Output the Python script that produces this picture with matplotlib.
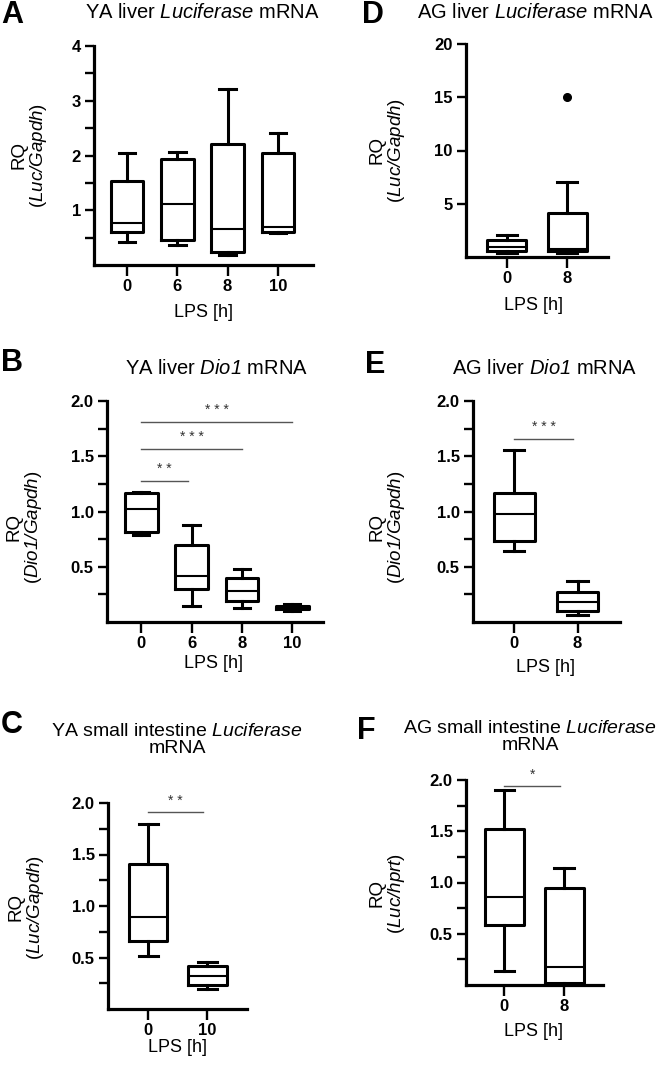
import matplotlib.pyplot as plt

plt.rcParams["font.family"] = ["Liberation Sans", "DejaVu Sans"]
plt.rcParams["mathtext.fontset"] = "custom"
plt.rcParams["mathtext.rm"] = "Liberation Sans"
# \mathcal keeps digits and "/" italic too (\mathit would set them upright)
plt.rcParams["mathtext.cal"] = "Liberation Sans:italic"

# === data: (whisker low, Q1, median, Q3, whisker high) per group ===
a_groups = ["0", "6", "8", "10"]
a_stats = [(0.42, 0.60, 0.77, 1.53, 2.04),
           (0.36, 0.45, 1.12, 1.94, 2.07),
           (0.18, 0.24, 0.65, 2.21, 3.21),
           (0.59, 0.61, 0.70, 2.04, 2.41)]

b_groups = ["0", "6", "8", "10"]
b_stats = [(0.79, 0.81, 1.02, 1.17, 1.18),
           (0.145, 0.30, 0.42, 0.70, 0.88),
           (0.13, 0.19, 0.28, 0.40, 0.48),
           (0.10, 0.115, 0.13, 0.145, 0.16)]
b_sigs = [(0, 0.93, 1.28, "* *"), (0, 2, 1.57, "* * *"), (0, 3, 1.81, "* * *")]

c_groups = ["0", "10"]
c_stats = [(0.51, 0.66, 0.89, 1.41, 1.80),
           (0.19, 0.23, 0.32, 0.42, 0.46)]
c_sigs = [(0, 0.92, 1.91, "* *")]

d_groups = ["0", "8"]
d_stats = [(0.35, 0.60, 0.97, 1.60, 2.06),
           (0.35, 0.60, 0.72, 4.16, 7.06)]
d_fliers = [[], [15.0]]

e_groups = ["0", "8"]
e_stats = [(0.64, 0.73, 0.98, 1.17, 1.56),
           (0.06, 0.10, 0.18, 0.27, 0.37)]
e_sigs = [(0, 0.93, 1.66, "* * *")]

f_groups = ["0", "8"]
f_stats = [(0.14, 0.59, 0.86, 1.52, 1.90),
           (0.01, 0.02, 0.175, 0.95, 1.14)]
f_sigs = [(0, 0.93, 1.94, "*")]

W, H = 660, 1065
fig = plt.figure(figsize=(W / 100, H / 100), dpi=100)


def px(x, y):
    return x / W, 1 - y / H


def panel(box, xlim, ylim, groups, stats, yticks, yminor, ytickfmt,
          fliers=None, sigs=()):
    l, t, r, b = box
    ax = fig.add_axes([l / W, 1 - b / H, (r - l) / W, (b - t) / H])
    if fliers is None:
        fliers = [[] for _ in stats]
    bx = [dict(whislo=s[0], q1=s[1], med=s[2], q3=s[3], whishi=s[4], fliers=f)
          for s, f in zip(stats, fliers)]
    lw = 2.2
    ax.bxp(bx, positions=range(len(bx)), widths=0.65, showfliers=True,
           boxprops=dict(color="k", lw=lw),
           whiskerprops=dict(color="k", lw=lw),
           capprops=dict(color="k", lw=lw),
           medianprops=dict(color="k", lw=1.5),
           flierprops=dict(marker="o", mfc="k", mec="k", ms=5.5))
    ax.set_xlim(*xlim)
    ax.set_ylim(*ylim)
    ax.set_xticks(range(len(groups)))
    ax.set_xticklabels(groups)
    ax.set_yticks(yticks)
    ax.set_yticklabels([ytickfmt.format(v) for v in yticks])
    ax.set_yticks(yminor, minor=True)
    for s in ("top", "right"):
        ax.spines[s].set_visible(False)
    for s in ("left", "bottom"):
        ax.spines[s].set_linewidth(2.3)
    ax.tick_params(axis="x", length=8, width=1.7, pad=2, labelsize=12)
    ax.tick_params(axis="y", which="both", length=6.5, width=1.7, pad=3,
                   labelsize=12)
    for lab in ax.get_xticklabels() + ax.get_yticklabels():
        lab.set_fontweight("bold")
    for x1, x2, y, txt in sigs:
        ax.plot([x1, x2], [y, y], color="#555555", lw=1.0, clip_on=False)
        ax.text((x1 + x2) / 2, y + (ylim[1] - ylim[0]) * 0.022, txt,
                ha="center", va="bottom", fontsize=10, color="#333333")
    return ax


panel((94, 46, 313, 265), (-0.66, 3.7), (0, 4), a_groups, a_stats,
      [1, 2, 3, 4], [0.5, 1.5, 2.5, 3.5], "{:g}")
panel((466, 44, 608, 257), (-0.68, 1.68), (0, 20), d_groups, d_stats,
      [5, 10, 15, 20], [], "{:g}", fliers=d_fliers)
panel((107, 401, 323, 622), (-0.68, 3.61), (0, 2), b_groups, b_stats,
      [0.5, 1.0, 1.5, 2.0], [0.25, 0.75, 1.25, 1.75], "{:.1f}", sigs=b_sigs)
panel((473, 401, 620, 622), (-0.65, 1.67), (0, 2), e_groups, e_stats,
      [0.5, 1.0, 1.5, 2.0], [0.25, 0.75, 1.25, 1.75], "{:.1f}", sigs=e_sigs)
panel((108, 803, 247, 1009), (-0.68, 1.67), (0, 2), c_groups, c_stats,
      [0.5, 1.0, 1.5, 2.0], [0.25, 0.75, 1.25, 1.75], "{:.1f}", sigs=c_sigs)
panel((466, 780, 603, 985), (-0.64, 1.65), (0, 2), f_groups, f_stats,
      [0.5, 1.0, 1.5, 2.0], [0.25, 0.75, 1.25, 1.75], "{:.1f}", sigs=f_sigs)

# === panel letters ===
for letter, (x, y) in {"A": (1, 15), "D": (362, 15), "B": (1, 363),
                       "E": (365, 365), "C": (1, 725), "F": (357, 731)}.items():
    fig.text(*px(x, y), letter, fontsize=22, fontweight="bold",
             ha="left", va="center")

# === titles ===
titles = [
    ("YA liver $\\mathcal{Luciferase}$ mRNA", (202, 13), 14.5),
    ("AG liver $\\mathcal{Luciferase}$ mRNA", (535, 13), 14.5),
    ("YA liver $\\mathcal{Dio1}$ mRNA", (217, 368), 14.5),
    ("AG liver $\\mathcal{Dio1}$ mRNA", (545, 368), 14.5),
    ("YA small intestine $\\mathcal{Luciferase}$\nmRNA", (177, 740), 14),
    ("AG small intestine $\\mathcal{Luciferase}$\nmRNA", (530, 737), 14),
]
for txt, (x, y), fs in titles:
    fig.text(*px(x, y), txt, fontsize=fs, ha="center", va="center",
             multialignment="center", linespacing=1.05)

# === axis labels ===
ylabels = [
    ("RQ\n($\\mathcal{Luc/Gapdh}$)", (30, 155)),
    ("RQ\n($\\mathcal{Luc/Gapdh}$)", (388, 150)),
    ("RQ\n($\\mathcal{Dio1/Gapdh}$)", (25, 527)),
    ("RQ\n($\\mathcal{Dio1/Gapdh}$)", (388, 527)),
    ("RQ\n($\\mathcal{Luc/Gapdh}$)", (27, 907)),
    ("RQ\n($\\mathcal{Luc/hprt}$)", (388, 893)),
]
for txt, (x, y) in ylabels:
    fig.text(*px(x, y), txt, fontsize=13.5, rotation=90, ha="center",
             va="center", multialignment="center", linespacing=1.05)

for x, y in [(203, 312), (533, 305), (213, 663), (545, 667), (177, 1047),
             (533, 1032)]:
    fig.text(*px(x, y), "LPS [h]", fontsize=13, ha="center", va="center")

fig.savefig("out.png", dpi=100)
